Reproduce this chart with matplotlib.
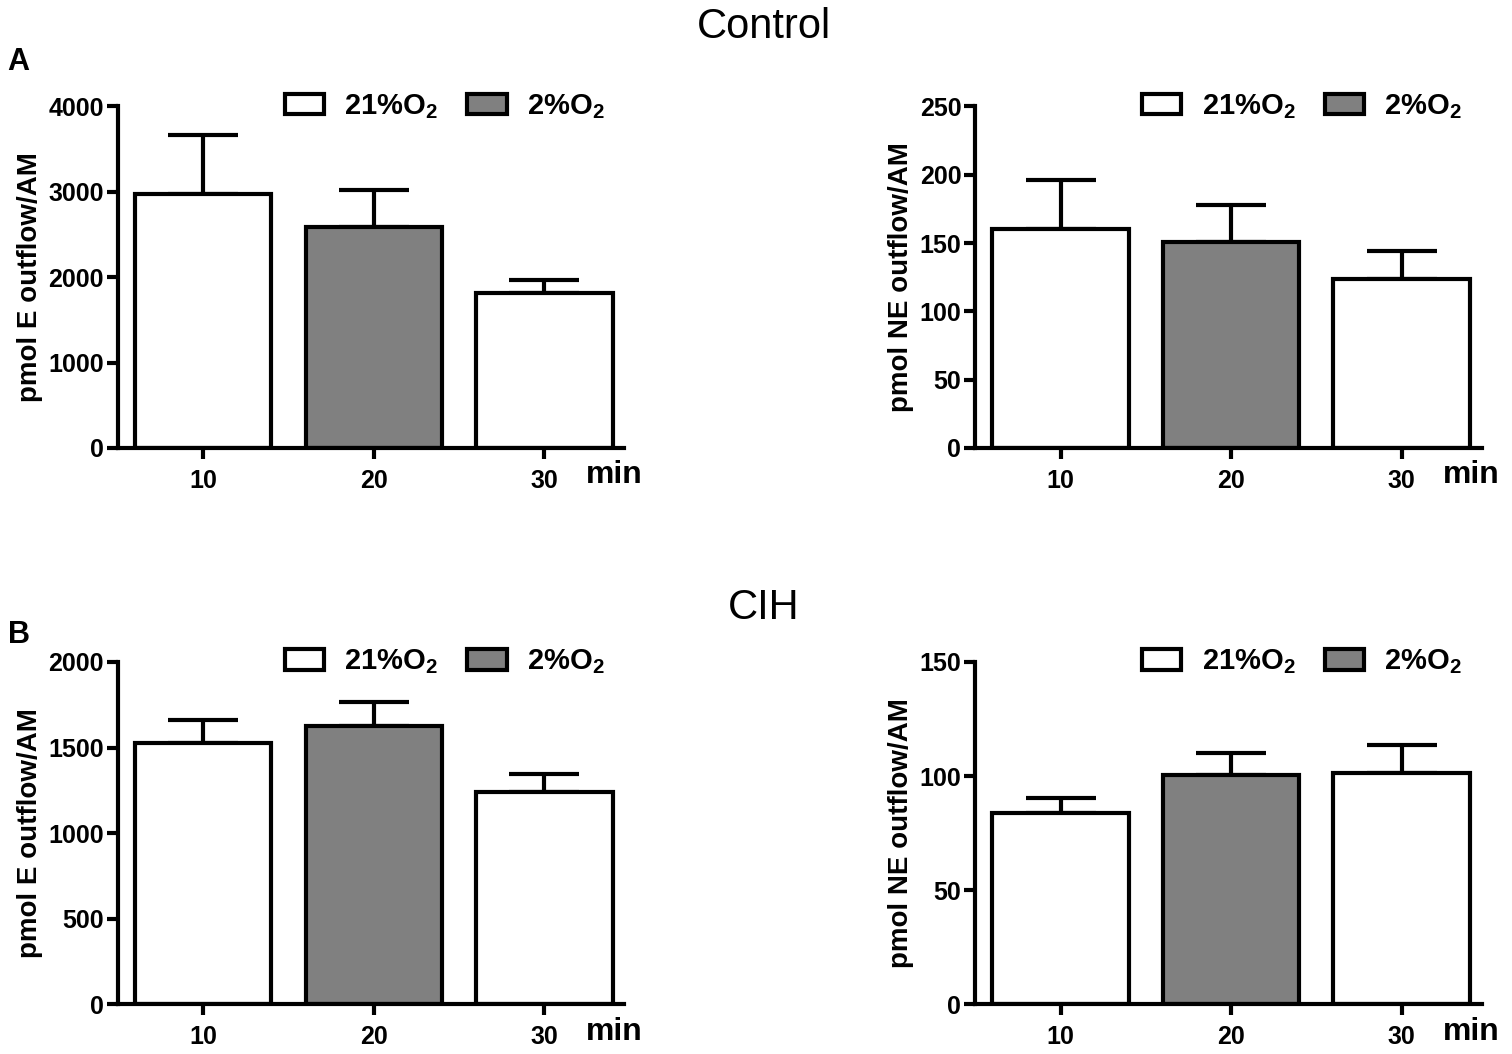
import matplotlib
matplotlib.use("Agg")
from matplotlib import pyplot as plt
from matplotlib.patches import Patch

plt.rcParams['font.family'] = ['Liberation Sans', 'DejaVu Sans']
plt.rcParams['mathtext.fontset'] = 'custom'
plt.rcParams['mathtext.rm'] = 'Liberation Sans:bold'
plt.rcParams['mathtext.bf'] = 'Liberation Sans:bold'

times = ['10', '20', '30']
fills = ['white', '#808080', 'white']

# Control
ctrl_E = [2980, 2590, 1815]
ctrl_E_err = [680, 430, 155]
ctrl_NE = [160, 151, 124]
ctrl_NE_err = [36, 27, 20]

# CIH
cih_E = [1528, 1628, 1242]
cih_E_err = [133, 138, 103]
cih_NE = [84, 100.5, 101.5]
cih_NE_err = [6.5, 9.5, 12]

fig = plt.figure(figsize=(15.12, 10.54), dpi=100)

LW = 3


def panel(rect, vals, errs, ymax, step, ylabel):
    ax = fig.add_axes(rect)
    x = range(len(vals))
    ax.errorbar(x, vals, yerr=[[0] * len(errs), errs], fmt='none', ecolor='black',
                elinewidth=LW, capsize=25, capthick=LW, zorder=1)
    ax.bar(x, vals, width=0.8, color=fills, edgecolor='black', linewidth=LW, zorder=2)
    ax.set_xlim(-0.5, 2.47)
    ax.set_ylim(0, ymax)
    ax.set_yticks(range(0, ymax + 1, step))
    ax.set_xticks(list(x))
    ax.set_xticklabels(times)
    for s in ['top', 'right']:
        ax.spines[s].set_visible(False)
    for s in ['left', 'bottom']:
        ax.spines[s].set_linewidth(LW)
    ax.tick_params(width=LW, length=8, labelsize=18)
    ax.tick_params(axis='x', pad=7)
    ax.tick_params(axis='y', pad=2)
    for t in ax.get_xticklabels() + ax.get_yticklabels():
        t.set_fontweight('bold')
    ax.set_ylabel(ylabel, fontsize=20, fontweight='bold', labelpad=4)
    ax.text(0.98, -0.08, 'min', transform=ax.transAxes, ha='center', va='center',
            fontsize=23, fontweight='bold')
    handles = [Patch(facecolor='white', edgecolor='black', linewidth=LW, label='21%O$_2$'),
               Patch(facecolor='#808080', edgecolor='black', linewidth=LW, label='2%O$_2$')]
    ax.legend(handles=handles, ncol=2, frameon=False, loc='center',
              bbox_to_anchor=(0.645, 1.0), handlelength=1.35,
              handleheight=0.7, columnspacing=1.0, handletextpad=0.7,
              prop={'weight': 'bold', 'size': 21})
    return ax


panel([0.078, 0.575, 0.335, 0.324], ctrl_E, ctrl_E_err, 4000, 1000, 'pmol E outflow/AM')
panel([0.645, 0.575, 0.335, 0.324], ctrl_NE, ctrl_NE_err, 250, 50, 'pmol NE outflow/AM')
panel([0.078, 0.047, 0.335, 0.325], cih_E, cih_E_err, 2000, 500, 'pmol E outflow/AM')
panel([0.645, 0.047, 0.335, 0.325], cih_NE, cih_NE_err, 150, 50, 'pmol NE outflow/AM')

fig.text(0.505, 0.974, 'Control', ha='center', va='center', fontsize=30)
fig.text(0.505, 0.423, 'CIH', ha='center', va='center', fontsize=30)
fig.text(0.005, 0.941, 'A', ha='left', va='center', fontsize=22, fontweight='bold')
fig.text(0.005, 0.398, 'B', ha='left', va='center', fontsize=22, fontweight='bold')

fig.savefig('out.png', dpi=100)
